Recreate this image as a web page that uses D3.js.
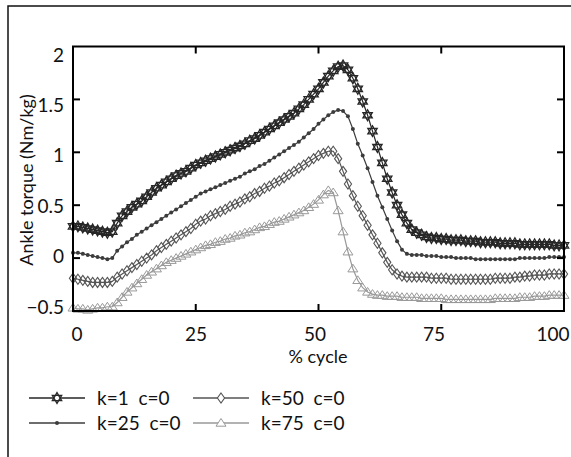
<!DOCTYPE html>
<html>
<head>
<meta charset="utf-8">
<script src="https://cdn.jsdelivr.net/npm/d3@7"></script>
<style>
body { margin: 0; background: #fff; }
svg text { font-family: Lato, "Open Sans", sans-serif; fill: #111; }
</style>
</head>
<body>
<div id="chart"></div>
<script>
// % gait cycle, one sample per percent
var cycle = d3.range(0, 101);

// ankle torque (Nm/kg)
var k1 = [
 0.30,0.30,0.29,0.28,0.27,0.26,0.25,0.24,0.25,0.33,
 0.40,0.44,0.48,0.51,0.54,0.58,0.62,0.66,0.69,0.72,
 0.75,0.78,0.80,0.82,0.85,0.88,0.90,0.92,0.94,0.96,
 0.98,1.00,1.02,1.04,1.06,1.08,1.11,1.13,1.16,1.19,
 1.22,1.25,1.28,1.31,1.34,1.37,1.41,1.45,1.50,1.55,
 1.60,1.66,1.72,1.77,1.81,1.82,1.78,1.70,1.60,1.48,
 1.35,1.20,1.05,0.90,0.75,0.62,0.50,0.41,0.33,0.27,
 0.24,0.22,0.20,0.19,0.19,0.18,0.18,0.17,0.17,0.17,
 0.16,0.16,0.16,0.15,0.15,0.15,0.15,0.14,0.14,0.14,
 0.14,0.13,0.13,0.13,0.13,0.13,0.13,0.13,0.12,0.12,0.12];
var k25 = [
 0.05,0.05,0.04,0.03,0.02,0.01,0.00,-0.01,0.00,0.07,
 0.11,0.15,0.18,0.22,0.25,0.28,0.31,0.34,0.37,0.40,
 0.43,0.46,0.49,0.52,0.55,0.58,0.61,0.63,0.65,0.67,
 0.69,0.71,0.73,0.75,0.77,0.80,0.82,0.84,0.87,0.89,
 0.92,0.95,0.98,1.01,1.04,1.07,1.10,1.14,1.18,1.22,
 1.27,1.31,1.35,1.38,1.40,1.39,1.34,1.22,1.08,0.97,
 0.85,0.72,0.59,0.48,0.37,0.26,0.16,0.08,0.04,0.03,
 0.03,0.03,0.02,0.02,0.02,0.01,0.01,0.01,0.00,0.00,
 0.00,0.00,-0.01,-0.01,-0.01,-0.01,-0.01,-0.01,-0.01,-0.01,
 -0.01,0.00,0.00,0.00,0.00,0.00,0.00,0.01,0.01,0.01,0.01];
var k50 = [
 -0.19,-0.20,-0.21,-0.22,-0.23,-0.23,-0.23,-0.23,-0.22,-0.18,
 -0.15,-0.12,-0.09,-0.06,-0.03,0.00,0.03,0.07,0.10,0.13,
 0.16,0.19,0.22,0.25,0.28,0.32,0.35,0.37,0.40,0.42,
 0.44,0.46,0.49,0.51,0.53,0.56,0.58,0.61,0.63,0.66,
 0.68,0.71,0.73,0.76,0.79,0.82,0.85,0.88,0.91,0.94,
 0.97,0.99,1.01,1.01,0.94,0.82,0.70,0.59,0.49,0.40,
 0.31,0.22,0.14,0.05,-0.04,-0.11,-0.15,-0.17,-0.18,-0.18,
 -0.18,-0.18,-0.18,-0.19,-0.19,-0.19,-0.19,-0.20,-0.20,-0.20,
 -0.20,-0.20,-0.20,-0.20,-0.20,-0.20,-0.19,-0.19,-0.19,-0.19,
 -0.18,-0.18,-0.17,-0.17,-0.16,-0.16,-0.16,-0.15,-0.15,-0.15,-0.15];
var k75 = [
 -0.47,-0.48,-0.48,-0.49,-0.48,-0.47,-0.47,-0.46,-0.46,-0.42,
 -0.37,-0.32,-0.28,-0.24,-0.20,-0.16,-0.13,-0.10,-0.07,-0.04,
 -0.02,0.00,0.02,0.04,0.06,0.08,0.10,0.12,0.13,0.15,
 0.16,0.18,0.19,0.21,0.22,0.24,0.25,0.27,0.29,0.30,
 0.32,0.34,0.35,0.37,0.39,0.41,0.43,0.45,0.48,0.51,
 0.55,0.60,0.64,0.62,0.45,0.25,0.06,-0.10,-0.21,-0.28,
 -0.32,-0.34,-0.35,-0.35,-0.36,-0.36,-0.36,-0.37,-0.37,-0.37,
 -0.37,-0.38,-0.38,-0.38,-0.38,-0.38,-0.39,-0.39,-0.39,-0.39,
 -0.39,-0.39,-0.39,-0.39,-0.39,-0.39,-0.38,-0.38,-0.38,-0.38,
 -0.38,-0.37,-0.37,-0.37,-0.36,-0.36,-0.36,-0.35,-0.35,-0.35,-0.35];

var seriesNames = ["k=1  c=0", "k=25  c=0", "k=50  c=0", "k=75  c=0"];
var xTicks = [0, 25, 50, 75, 100];
var yTicks = [-0.5, 0, 0.5, 1, 1.5, 2];

var W = 571, H = 457;
var plotL = 73, plotR = 564, plotT = 46.5, plotB = 311;

var svg = d3.select("#chart").append("svg")
    .attr("width", W).attr("height", H);

// outer figure frame (cropped on right / bottom)
svg.append("rect")
    .attr("x", 8).attr("y", 6).attr("width", 700).attr("height", 600)
    .attr("fill", "none").attr("stroke", "#111").attr("stroke-width", 1.5);

var x = d3.scaleLinear().domain([0, 100]).range([plotL, plotR]);
var y = d3.scaleLinear().domain([-0.5, 2]).range([plotB, plotT]);
// labels sit a little off the ticks in the original
var xLab = d3.scaleLinear().domain([0, 100]).range([77, 553]);
var yLab = d3.scaleLinear().domain([-0.5, 2]).range([307, 55]);

// star of david marker
function hexagram(r) {
    var p = d3.path();
    [-90, 90].forEach(function(a0) {
	for (var i = 0; i < 3; i++) {
	    var a = (a0 + i*120) * Math.PI/180;
	    if (i == 0) p.moveTo(r*Math.cos(a), r*Math.sin(a));
	    else p.lineTo(r*Math.cos(a), r*Math.sin(a));
	}
	p.closePath();
    });
    return p.toString();
}
var markers = [
    {d: hexagram(5.4), fill: "none", sw: 1.3},
    {d: "M-2,0a2,2 0 1,0 4,0a2,2 0 1,0 -4,0", fill: "#3c3c3c", sw: 0},
    {d: "M0,-5L3.6,0L0,5L-3.6,0Z", fill: "none", sw: 1.1},
    {d: "M0,-4.5L5,3.2L-5,3.2Z", fill: "none", sw: 1}
];
var colors = ["#262626", "#3c3c3c", "#555", "#999"];
var data = [k1, k25, k50, k75];

var line = d3.line()
    .x(function(d, i) { return x(cycle[i]); })
    .y(function(d) { return y(d); });

// draw light curves first so the dark ones sit on top
for (var s = data.length - 1; s >= 0; s--) {
    var g = svg.append("g");
    g.append("path")
	.attr("d", line(data[s]))
	.attr("fill", "none")
	.attr("stroke", colors[s])
	.attr("stroke-width", 1.2);
    g.selectAll("path.m")
	.data(data[s])
	.enter().append("path")
	.attr("class", "m")
	.attr("d", markers[s].d)
	.attr("transform", function(d, i) { return "translate(" + x(cycle[i]) + "," + y(d) + ")"; })
	.attr("fill", markers[s].fill)
	.attr("stroke", colors[s])
	.attr("stroke-width", markers[s].sw);
}

// plot box + inward ticks
svg.append("rect")
    .attr("x", plotL).attr("y", plotT).attr("width", plotR-plotL).attr("height", plotB-plotT)
    .attr("fill", "none").attr("stroke", "#000").attr("stroke-width", 2);
var tl = 7;
xTicks.slice(1, 4).forEach(function(t) {
    svg.append("line").attr("x1", x(t)).attr("x2", x(t)).attr("y1", plotB).attr("y2", plotB-tl)
	.attr("stroke", "#000").attr("stroke-width", 2);
    svg.append("line").attr("x1", x(t)).attr("x2", x(t)).attr("y1", plotT).attr("y2", plotT+tl)
	.attr("stroke", "#000").attr("stroke-width", 2);
});
yTicks.slice(1, 5).forEach(function(t) {
    svg.append("line").attr("x1", plotL).attr("x2", plotL+tl).attr("y1", y(t)).attr("y2", y(t))
	.attr("stroke", "#000").attr("stroke-width", 2);
    svg.append("line").attr("x1", plotR).attr("x2", plotR-tl).attr("y1", y(t)).attr("y2", y(t))
	.attr("stroke", "#000").attr("stroke-width", 2);
});

// tick labels
svg.selectAll("text.xl").data(xTicks).enter().append("text")
    .attr("x", function(d) { return xLab(d); })
    .attr("y", 341)
    .attr("text-anchor", "middle")
    .style("font-size", "19px")
    .text(function(d) { return d; });
svg.selectAll("text.yl").data(yTicks).enter().append("text")
    .attr("x", 64)
    .attr("y", function(d) { return yLab(d); })
    .attr("dy", "0.35em")
    .attr("text-anchor", "end")
    .style("font-size", "19px")
    .text(function(d) { return d < 0 ? "\u2212" + (-d) : d; });

// axis titles
svg.append("text")
    .attr("x", 318).attr("y", 363)
    .attr("text-anchor", "middle")
    .style("font-size", "18px")
    .text("% cycle");
svg.append("text")
    .attr("transform", "translate(33,180) rotate(-90)")
    .attr("text-anchor", "middle")
    .style("font-size", "18px")
    .text("Ankle torque (Nm/kg)");

// legend, two columns
var legPos = [[29, 398], [29, 423], [193, 398], [193, 423]];
seriesNames.forEach(function(name, s) {
    var lx = legPos[s][0], ly = legPos[s][1];
    svg.append("line").attr("x1", lx).attr("x2", lx+56).attr("y1", ly).attr("y2", ly)
	.attr("stroke", colors[s]).attr("stroke-width", 1.5);
    svg.append("path").attr("d", markers[s].d)
	.attr("transform", "translate(" + (lx+28) + "," + ly + ")")
	.attr("fill", markers[s].fill == "none" ? "#fff" : markers[s].fill)
	.attr("stroke", colors[s]).attr("stroke-width", markers[s].sw);
    svg.append("text")
	.attr("x", lx+68).attr("y", ly)
	.attr("dy", "0.35em")
	.style("font-size", "19px")
	.style("white-space", "pre")
	.text(name);
});
</script>
</body>
</html>
